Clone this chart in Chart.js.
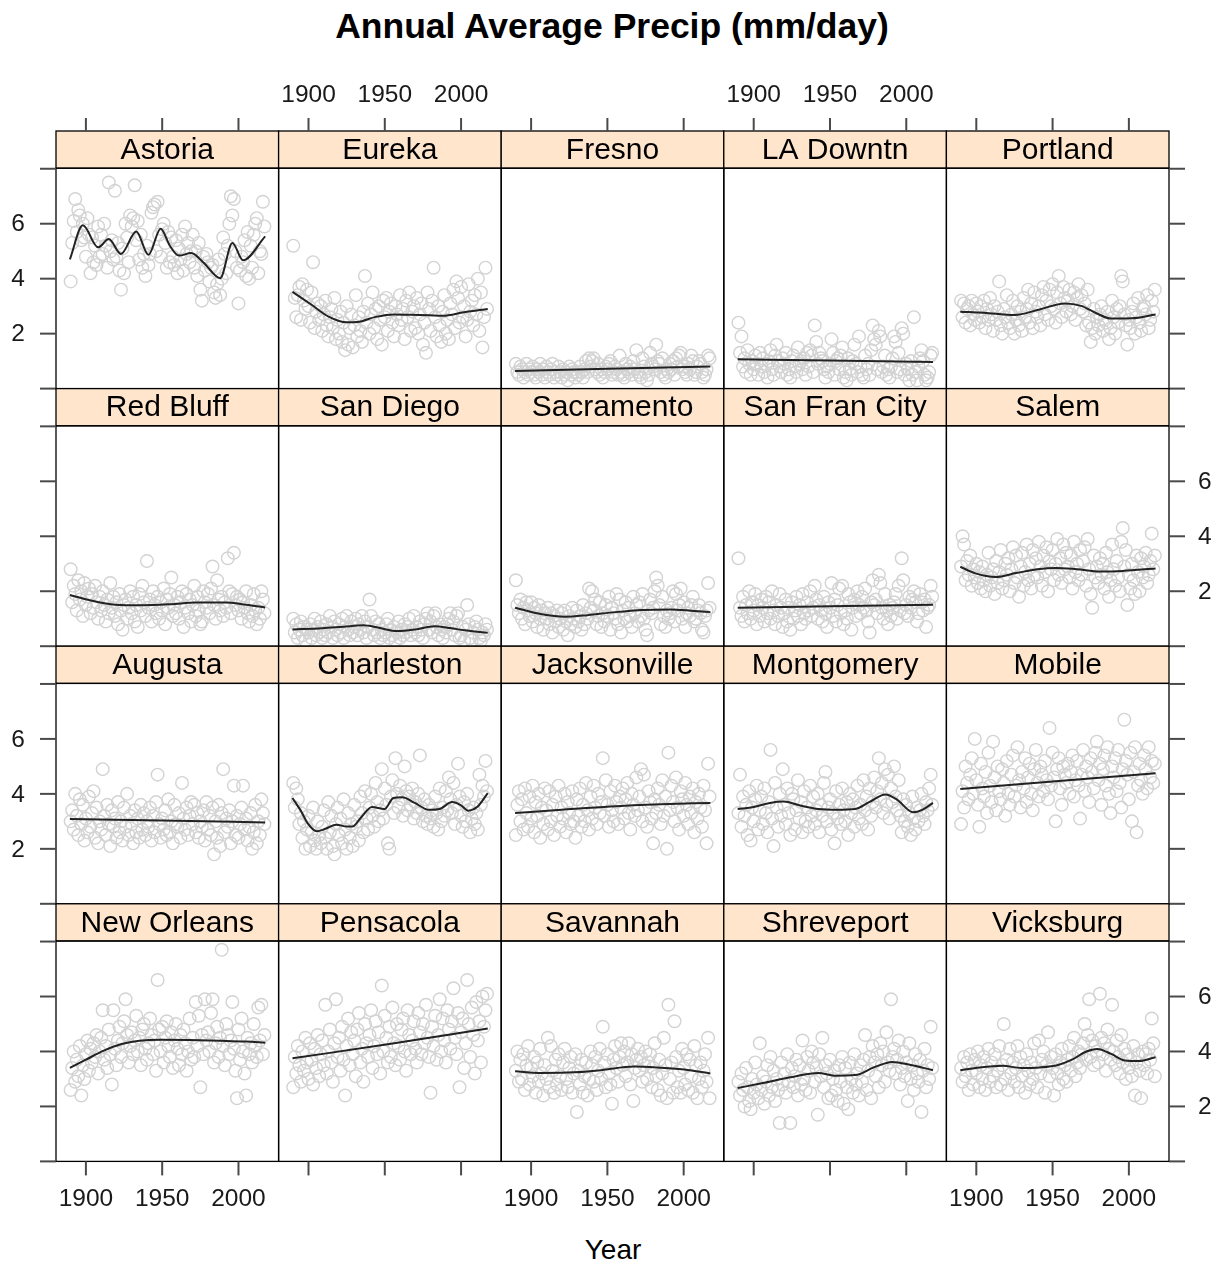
<!DOCTYPE html>
<html>
<head>
<meta charset="utf-8">
<title>Annual Average Precip (mm/day)</title>
<script src="https://cdn.jsdelivr.net/npm/chart.js@4.4.1/dist/chart.umd.min.js"></script>
<style>
  html, body { margin: 0; padding: 0; background: #fff; }
  #wrap { position: relative; width: 1221px; height: 1266px; overflow: hidden;
          font-family: "Liberation Sans", Arial, Helvetica, sans-serif; color: #000; }
  #wrap canvas { position: absolute; }
  .title { position: absolute; left: 0; width: 1224px; top: 7px; text-align: center;
           font-weight: bold; font-size: 35.5px; line-height: 38px; }
  .xlab { position: absolute; left: 0; width: 1226px; top: 1234px; text-align: center;
          font-size: 28px; line-height: 32px; }
</style>
</head>
<body>
<div id="wrap">
  <div class="title">Annual Average Precip (mm/day)</div>
  <div class="xlab">Year</div>
</div>
<script>
// ---- categories and ticks ----
const STATIONS = ['Astoria', 'Eureka', 'Fresno', 'LA Downtn', 'Portland',
                  'Red Bluff', 'San Diego', 'Sacramento', 'San Fran City', 'Salem',
                  'Augusta', 'Charleston', 'Jacksonville', 'Montgomery', 'Mobile',
                  'New Orleans', 'Pensacola', 'Savannah', 'Shreveport', 'Vicksburg'];
const FIRST_YEAR = 1890;          // one value per year, 1890 .. 2017
const X_TICKS = [1900, 1950, 2000];
const Y_TICKS = [0, 2, 4, 6, 8];
const Y_TICK_LABELS = [2, 4, 6];

// ---- annual precipitation, mm/day (1890 .. 2017) ----
const astoria = [3.9,5.3,6.1,6.9,5.7,6.5,6.3,5.4,6.0,5.5, 4.8,6.2,5.6,4.2,5.5,4.6,5.2,4.5,5.9,4.8,
  5.6,4.9,6.0,5.2,4.4,7.5,5.0,5.4,4.7,7.2, 4.8,5.3,4.3,3.6,5.1,4.2,6.0,5.5,4.6,6.3,
  5.9,6.2,7.4,5.4,6.1,4.7,5.6,4.4,4.9,4.1, 5.2,4.5,4.9,6.4,6.6,6.7,5.0,6.8,5.6,4.8,
  5.8,6.0,5.3,4.4,5.7,4.6,5.5,4.8,4.5,5.4, 4.2,5.1,4.7,5.6,4.3,5.9,4.9,5.3,4.6,5.0,
  5.6,4.4,5.0,4.1,5.3,3.6,3.2,4.8,4.3,4.9, 4.6,3.9,4.4,4.5,3.5,3.3,3.8,4.7,3.4,4.0,
  5.5,4.9,4.2,5.2,6.0,7.0,6.3,6.9,5.0,4.4, 3.1,4.3,4.8,4.6,5.4,4.1,5.7,4.0,5.2,4.4,
  5.6,6.0,6.2,4.2,5.0,4.9,6.8,5.9];
const eureka = [5.2,3.3,2.6,3.4,3.7,2.5,3.8,3.2,2.9,3.6, 3.0,2.4,3.5,4.6,2.2,2.8,3.1,2.5,3.0,2.1,
  2.7,3.2,2.3,1.9,2.6,2.9,2.2,3.3,1.8,2.5, 2.0,2.8,1.7,2.4,1.4,3.0,1.6,2.2,2.7,1.5,
  2.3,3.4,1.9,2.6,2.1,1.7,2.8,4.1,2.4,3.1, 2.0,2.7,3.5,2.2,2.9,1.8,3.0,2.5,1.6,3.2,
  2.6,3.3,2.1,2.8,3.1,2.4,1.9,3.0,2.7,2.3, 3.4,2.5,2.9,1.8,3.2,2.6,3.5,2.1,2.8,3.0,
  2.2,3.3,2.0,2.7,3.1,1.6,2.4,1.3,3.5,2.9, 2.1,3.2,4.4,2.6,1.9,3.0,2.3,1.7,2.8,3.4,
  2.0,2.5,1.8,3.1,2.7,3.6,2.2,3.9,3.3,2.4, 3.7,2.6,3.0,1.9,2.5,3.8,2.8,3.2,2.3,3.4,
  2.7,4.0,2.1,3.5,1.5,2.6,4.4,2.9];
const fresno = [0.9,0.6,0.5,0.8,0.7,0.4,0.6,0.9,0.5,0.7, 0.6,0.8,0.5,0.4,0.7,0.6,0.9,0.5,0.7,0.4,
  0.8,0.6,0.5,0.7,0.9,0.4,0.6,0.5,0.8,0.6, 0.4,0.7,0.5,0.6,0.3,0.8,0.5,0.7,0.6,0.4,
  0.6,0.5,0.8,0.6,0.4,0.7,1.0,0.6,1.1,0.8, 1.0,1.1,0.7,0.6,0.9,0.5,0.7,0.4,0.6,0.8,
  0.7,0.9,1.0,0.5,0.6,0.8,0.7,0.5,1.2,0.6, 0.5,0.4,0.9,0.7,0.6,0.8,0.5,1.0,0.7,1.4,
  0.6,0.5,0.4,1.1,0.8,0.6,0.3,0.5,1.3,0.9, 0.8,0.7,1.6,1.0,0.9,0.6,1.1,0.5,0.4,0.7,
  0.6,0.9,0.7,1.0,0.5,1.1,0.8,1.2,1.3,0.7, 0.8,0.6,0.5,0.9,0.7,1.2,1.0,0.5,0.6,0.8,
  1.0,0.9,0.6,0.4,0.5,0.7,1.2,1.1];
const laDowntn = [2.4,1.3,1.9,0.8,1.1,0.6,1.4,0.9,0.5,1.0, 0.7,1.2,0.9,0.5,1.3,0.8,1.1,0.6,0.9,0.4,
  1.0,1.4,0.7,0.5,1.2,1.6,1.0,0.8,0.6,1.1, 0.9,1.3,0.5,0.7,0.4,1.0,1.2,0.8,0.6,1.5,
  0.9,1.0,0.7,1.1,0.5,1.3,0.8,1.4,1.2,0.6, 2.3,1.7,0.9,1.3,1.1,1.0,0.7,0.4,0.8,0.6,
  0.9,1.8,1.3,0.5,1.0,1.1,0.7,1.2,1.5,0.4, 0.6,0.3,1.1,0.7,0.5,1.0,1.6,0.9,0.6,1.9,
  0.8,0.5,0.4,1.2,0.7,0.9,0.5,1.4,2.3,1.8, 1.6,0.7,2.1,1.9,0.6,0.8,1.2,0.5,0.7,0.4,
  0.8,1.1,1.9,1.7,0.6,1.3,0.7,2.2,2.0,0.5, 0.9,0.7,0.3,1.0,0.5,2.6,0.6,0.3,0.8,1.1,
  1.4,1.0,0.5,0.3,0.4,0.6,1.2,1.3];
const portland = [3.2,2.6,3.1,2.4,2.9,3.0,2.3,3.2,2.7,2.5, 3.1,2.8,2.4,3.0,2.6,3.2,2.2,2.9,2.5,3.3,
  2.7,2.1,3.0,2.5,2.8,3.9,2.3,2.0,2.9,2.6, 3.4,2.4,2.2,2.7,3.2,2.0,2.5,3.0,2.3,2.8,
  2.1,3.3,2.6,2.9,3.6,2.4,3.1,2.2,3.5,2.8, 2.6,3.0,2.3,3.4,3.7,2.7,3.2,2.5,3.6,3.0,
  3.8,2.9,2.4,3.5,4.1,3.1,2.6,3.7,3.3,2.8, 3.2,3.6,2.7,3.0,3.5,2.5,3.3,3.8,2.9,3.4,
  2.8,3.1,2.3,3.6,2.4,1.7,2.2,2.9,2.0,2.6, 2.3,2.7,3.0,2.1,2.5,2.4,2.8,1.8,2.2,3.2,
  2.6,2.0,2.9,2.4,3.0,4.1,3.9,2.7,2.3,1.6, 2.5,2.2,2.8,3.1,2.0,2.6,3.3,2.4,2.1,2.9,
  3.0,2.7,3.4,2.2,2.5,3.2,2.8,3.6];
const redBluff = [2.8,1.6,2.2,1.9,1.3,2.4,1.7,2.0,1.1,2.3, 1.5,1.8,2.1,1.2,1.9,1.4,2.2,1.6,1.0,1.8,
  1.3,2.0,1.5,0.9,1.7,1.2,2.3,1.4,1.8,1.1, 1.6,0.8,1.9,1.3,0.6,1.5,1.7,1.0,1.4,2.0,
  1.2,1.8,0.9,1.5,0.7,1.9,1.3,2.2,1.6,1.1, 3.1,1.4,1.7,0.9,2.0,1.5,1.2,1.8,1.0,1.6,
  1.3,2.1,0.8,1.7,1.4,1.9,2.5,1.1,1.5,1.2, 1.8,1.0,1.6,2.0,0.7,1.4,1.9,1.2,1.7,0.9,
  1.5,2.2,1.1,1.8,1.3,0.8,0.9,2.0,1.6,1.4, 1.9,1.2,2.1,2.9,1.5,1.0,2.4,1.7,1.3,1.8,
  1.1,1.6,1.4,3.2,2.0,1.2,1.9,3.4,1.5,1.8, 1.3,1.7,1.0,1.6,1.4,2.0,1.2,0.9,1.5,1.1,
  1.9,1.3,0.8,1.4,1.0,2.0,1.7,1.2];
const sanDiego = [1.0,0.5,0.8,0.3,0.6,0.9,0.4,0.7,0.2,0.6, 0.5,0.8,0.3,0.6,1.0,0.4,0.7,0.5,0.9,0.3,
  0.6,0.4,0.8,0.5,1.1,0.7,0.3,0.9,0.6,0.4, 0.8,0.5,1.0,0.3,0.7,1.1,0.6,0.4,0.9,0.5,
  0.7,1.0,0.4,0.8,0.6,1.1,0.5,0.9,0.3,0.7, 1.7,1.1,0.6,0.4,0.9,0.5,0.8,0.3,0.6,0.4,
  0.5,0.8,1.0,0.3,0.6,0.4,0.7,0.2,0.5,0.9, 0.3,0.6,0.4,0.8,0.5,0.7,1.0,0.4,0.6,1.1,
  0.5,0.7,0.4,0.9,0.6,0.3,0.8,1.0,1.2,0.6, 0.9,0.5,1.1,1.2,0.7,0.4,0.8,0.6,0.3,0.7,
  0.5,0.8,1.0,1.2,0.6,0.9,0.4,1.1,1.2,0.3, 0.4,0.7,0.2,0.6,1.5,0.8,0.3,0.2,0.5,0.7,
  0.9,0.6,0.3,0.2,0.5,0.4,0.8,0.6];
const sacramento = [2.4,1.5,1.2,1.7,1.0,1.4,0.8,1.6,1.3,1.1, 1.6,0.9,1.4,1.2,0.7,1.5,1.0,1.3,0.6,1.2,
  1.0,1.4,0.8,1.2,0.5,1.1,0.9,1.3,0.7,1.0, 1.2,0.6,1.3,0.9,0.4,1.1,0.8,1.4,1.0,0.7,
  1.3,0.9,1.1,0.6,1.5,0.8,1.2,1.0,2.1,1.4, 2.0,1.3,1.7,0.8,1.1,1.6,0.7,1.2,0.9,1.5,
  1.1,1.8,0.6,1.4,1.2,1.0,1.9,0.8,1.7,0.5, 1.3,1.0,1.6,0.9,1.4,1.1,0.7,1.8,1.2,1.5,
  0.9,1.6,1.1,1.9,1.0,0.6,0.4,1.3,1.7,1.2, 1.4,2.0,2.5,2.2,1.5,0.8,1.8,1.1,0.7,1.3,
  1.0,1.2,1.4,2.0,0.9,1.9,1.3,1.5,2.1,1.0, 1.6,0.7,1.2,1.4,1.1,1.5,1.8,0.9,1.0,1.3,
  1.5,1.2,0.6,0.5,1.1,1.3,2.3,1.4];
const sanFranCity = [3.2,1.4,1.1,1.8,0.9,1.5,1.2,2.0,1.0,1.6, 1.3,1.9,0.8,1.5,1.1,1.7,1.4,0.9,1.8,1.2,
  1.6,1.0,2.0,1.3,0.8,1.5,1.1,1.9,1.4,0.7, 1.2,1.7,0.9,1.4,0.6,1.6,1.0,1.3,1.8,1.1,
  1.5,0.8,1.9,1.2,1.0,1.6,1.3,2.0,1.1,1.4, 2.2,1.7,1.0,1.5,1.3,0.9,1.8,1.2,0.7,1.6,
  1.4,2.3,1.1,1.7,0.9,1.5,2.1,1.2,2.2,0.8, 1.3,1.0,1.9,1.6,0.6,1.4,1.7,1.1,2.0,1.5,
  1.2,1.8,1.4,2.1,1.3,0.9,0.5,1.6,2.4,1.5, 1.7,1.2,2.6,2.3,1.4,1.0,1.9,1.3,0.8,1.5,
  1.1,1.4,1.6,1.9,1.0,2.2,1.3,3.2,2.4,1.2, 1.5,1.1,1.8,1.4,1.7,2.0,1.6,0.9,1.2,1.9,
  1.6,1.3,1.7,0.7,1.4,1.5,2.2,1.8];
const salem = [2.9,4.0,3.7,2.4,3.1,2.6,3.3,2.2,2.8,2.5, 3.0,2.3,2.7,2.1,2.9,2.4,2.0,2.6,3.4,2.2,
  2.5,2.8,1.9,3.1,2.3,2.7,3.5,2.1,2.4,3.0, 2.6,3.2,2.0,2.8,3.6,2.3,3.3,2.5,1.8,2.9,
  3.4,2.2,2.7,3.7,2.4,3.0,2.1,3.5,2.6,3.2, 2.5,3.8,2.9,2.2,3.3,2.7,3.6,2.0,3.1,2.8,
  3.5,2.4,3.0,3.9,2.6,3.2,2.3,3.7,2.8,3.4, 2.9,2.5,3.3,2.1,3.8,2.7,3.0,2.4,3.5,2.6,
  3.1,3.6,2.2,3.9,2.8,1.9,1.4,3.3,2.5,2.9, 2.3,3.2,2.6,3.0,2.1,3.4,2.7,1.8,2.4,3.7,
  2.8,2.2,3.1,2.5,2.0,3.8,4.3,2.9,3.5,1.5, 2.6,2.1,3.0,2.4,1.9,3.3,2.7,2.0,3.2,2.5,
  2.9,3.4,2.3,2.6,3.1,4.1,2.8,3.3];
const augusta = [3.0,3.4,2.7,4.0,3.2,2.5,3.8,2.9,3.6,2.3, 3.1,2.6,3.9,2.8,3.3,4.1,2.4,3.5,2.2,3.0,
  2.7,4.9,3.2,2.5,3.6,2.9,2.1,3.4,2.8,3.1, 2.4,3.7,2.6,3.0,2.3,3.5,2.8,4.0,2.5,3.2,
  2.9,2.2,3.4,2.6,3.1,2.4,3.6,2.7,3.3,2.5, 3.0,2.8,3.5,2.3,3.2,2.6,3.7,4.7,2.9,2.4,
  3.1,2.7,3.4,2.5,3.8,2.6,3.0,2.2,3.6,2.9, 2.8,3.3,2.4,4.4,3.1,2.7,3.5,2.5,3.2,3.7,
  2.9,3.6,2.6,3.3,2.4,3.0,2.8,3.4,2.3,3.7, 2.7,3.2,2.5,3.5,1.8,3.0,2.4,3.6,2.1,3.3,
  4.9,2.6,3.1,2.8,3.4,2.2,3.0,4.3,2.5,3.2, 2.4,2.9,3.5,4.3,2.7,3.1,2.3,2.8,3.3,2.0,
  2.6,3.6,2.2,3.0,2.5,3.8,3.3,2.9];
const charleston = [4.4,3.5,4.2,3.8,2.9,3.3,2.4,3.0,2.0,2.7, 3.2,2.1,2.6,3.5,2.3,2.0,3.0,2.5,2.2,2.8,
  3.4,2.4,2.0,3.7,2.6,3.2,2.1,1.8,2.9,3.5, 2.5,3.1,2.2,3.8,2.7,2.0,3.3,2.4,2.9,2.1,
  3.6,2.8,3.0,2.3,3.9,3.3,2.6,4.1,3.1,2.7, 3.5,4.0,3.2,2.8,4.4,3.7,3.0,3.4,4.9,3.1,
  4.2,3.6,2.2,2.0,3.9,4.5,3.3,5.3,4.0,3.5, 4.3,3.8,3.2,5.0,4.1,3.4,3.9,3.6,4.2,3.1,
  3.7,3.3,4.0,5.4,3.5,3.0,3.8,3.2,2.9,3.6, 3.1,3.4,2.8,3.9,3.3,2.7,4.2,3.0,3.5,3.2,
  4.1,3.4,4.6,3.8,3.3,4.4,2.9,3.6,5.1,3.9, 3.2,2.8,3.7,3.0,4.0,3.4,2.6,3.1,3.5,2.9,
  3.3,2.7,4.7,3.6,4.3,3.9,5.2,4.1];
const jacksonville = [2.5,3.6,4.1,3.0,3.8,2.7,4.2,3.3,2.8,3.9, 3.1,4.3,2.6,3.7,3.2,4.0,2.4,3.5,2.9,4.2,
  3.4,2.7,4.1,3.0,3.6,2.5,3.9,3.2,4.3,2.8, 3.5,3.1,4.0,2.6,3.7,3.3,2.9,4.1,3.0,2.4,
  3.8,3.2,4.2,2.8,3.6,3.0,4.4,3.4,2.7,3.9, 3.1,4.3,3.5,2.9,4.0,3.3,3.7,5.3,3.2,4.5,
  3.6,2.8,4.1,3.4,3.0,4.3,3.7,2.9,3.9,3.5, 4.2,3.1,3.8,4.4,3.3,2.7,4.0,3.6,3.2,4.6,
  3.4,3.9,4.9,3.0,4.7,3.5,2.8,4.1,3.7,3.1, 2.2,3.8,3.3,4.2,3.6,2.9,4.5,3.2,3.9,2.0,
  5.5,3.4,4.3,3.7,3.0,4.6,3.5,2.7,4.1,3.8, 3.2,4.4,3.6,2.9,3.9,3.3,4.2,2.6,3.7,3.1,
  4.0,3.5,2.8,4.3,3.4,2.2,5.1,3.9];
const montgomery = [3.3,4.7,2.8,3.9,3.2,3.6,2.5,4.1,2.3,3.5, 3.0,3.8,4.3,2.7,3.4,3.9,2.9,4.2,3.3,2.6,
  3.7,5.6,3.1,2.1,4.4,3.5,2.8,4.0,3.2,4.9, 3.6,2.9,4.2,3.3,2.5,4.0,3.8,2.7,3.4,4.5,
  3.1,3.7,2.6,4.1,3.0,3.5,2.8,4.3,3.2,3.9, 2.9,3.4,4.0,2.6,3.6,3.2,4.4,4.8,3.0,3.5,
  3.8,2.7,3.3,2.2,4.1,3.1,3.6,2.9,4.2,3.4, 3.0,3.7,2.5,4.0,3.3,3.8,2.8,3.5,4.3,3.1,
  3.6,2.9,4.5,3.4,3.9,2.7,4.2,3.2,3.7,4.6, 3.5,4.1,5.3,3.8,4.4,3.3,4.9,3.6,4.7,3.1,
  4.2,3.7,5.0,3.9,3.4,4.5,3.2,2.6,3.8,3.0, 3.6,2.8,3.3,2.5,3.9,3.1,2.7,3.5,3.0,3.4,
  4.0,3.2,2.9,3.7,3.4,4.2,4.7,3.6];
const mobile = [2.9,4.1,3.5,5.0,4.4,3.8,4.7,5.3,4.0,6.0, 4.5,3.6,2.8,5.1,4.2,3.9,4.8,3.3,5.5,4.3,
  3.7,5.9,4.6,3.4,5.0,4.1,3.8,4.9,4.4,3.2, 5.2,4.0,3.6,4.7,5.4,3.9,4.3,5.7,4.5,3.5,
  4.8,4.2,5.3,3.7,4.6,5.1,4.0,3.4,4.9,5.6, 4.4,3.9,5.0,4.7,4.1,5.2,4.5,3.8,6.4,4.3,
  5.5,4.6,3.0,4.9,5.3,4.2,3.6,5.0,4.7,4.4, 5.1,4.0,4.8,5.4,3.9,4.5,5.2,4.3,3.1,4.7,
  5.6,4.1,5.0,4.6,3.7,5.3,4.8,4.2,5.5,5.9, 4.5,5.1,3.6,4.9,5.4,4.3,5.7,4.0,3.3,5.0,
  4.6,5.3,4.1,5.6,4.4,3.5,4.9,6.7,5.2,4.7, 3.8,5.5,3.0,4.8,5.7,2.6,4.3,5.1,4.5,4.0,
  5.4,4.9,4.2,5.7,4.6,5.2,4.4,5.1];
const newOrleans = [2.6,3.4,4.0,2.9,3.7,3.1,4.2,2.4,3.5,3.0, 3.9,4.4,3.3,4.1,3.6,4.3,3.8,4.6,3.2,4.0,
  4.5,5.5,3.7,4.2,3.4,4.8,3.9,2.8,5.5,4.1, 3.5,4.4,4.9,3.8,4.3,5.1,5.9,4.6,3.6,4.2,
  4.7,3.9,4.4,5.3,4.0,4.5,3.5,4.8,5.0,4.1, 3.7,4.3,5.2,4.6,3.9,4.4,3.3,6.6,4.8,4.0,
  4.9,3.6,4.5,5.1,4.2,3.8,4.7,3.4,4.4,5.0, 4.1,3.5,4.6,3.9,4.8,4.3,3.3,4.0,5.2,3.7,
  4.5,3.8,5.8,4.2,5.3,2.7,4.6,3.9,5.9,4.4, 4.7,4.0,5.4,5.9,3.6,4.3,4.9,3.8,4.5,7.7,
  4.2,3.5,5.0,4.6,3.9,4.4,5.8,4.1,3.3,2.3, 4.8,3.7,5.2,4.0,3.2,2.4,4.5,3.9,4.3,3.6,
  5.0,4.2,3.8,5.6,4.4,5.7,3.9,4.6];
const pensacola = [2.7,3.8,3.2,4.2,3.5,2.9,4.0,3.3,4.5,3.6, 3.0,4.3,3.7,2.8,4.1,3.4,4.6,3.1,3.9,4.4,
  3.5,5.7,3.2,4.0,4.8,3.6,2.9,4.3,5.9,3.8, 4.5,3.3,4.9,3.7,2.4,4.2,5.2,3.5,4.7,3.9,
  4.4,3.1,4.8,5.4,3.6,4.1,2.9,5.0,4.3,3.8, 4.6,5.5,3.4,4.2,5.1,3.9,4.7,3.2,6.4,4.0,
  5.3,4.5,3.6,4.9,3.8,5.6,4.3,3.5,5.0,4.2, 3.7,4.8,5.2,4.0,3.3,5.5,4.6,3.9,4.4,5.1,
  4.1,3.6,5.4,4.7,3.9,5.0,4.3,5.7,4.5,3.8, 2.5,4.9,4.2,5.3,3.7,4.6,5.9,4.0,5.2,4.4,
  3.6,5.5,4.8,4.1,5.1,6.3,4.5,3.9,5.4,2.7, 4.7,5.2,3.4,4.3,6.6,5.0,3.8,5.6,4.6,3.2,
  5.8,4.4,5.1,3.6,6.0,4.9,5.5,6.1];
const savannah = [3.3,4.0,2.9,3.7,3.0,3.9,2.6,3.5,4.2,2.8, 3.4,3.1,3.8,2.5,3.6,2.9,4.1,3.2,2.4,3.5,
  3.0,4.5,2.7,4.2,3.3,2.5,3.7,2.8,3.9,3.1, 2.6,3.6,4.1,3.0,2.7,3.4,3.8,2.5,3.2,3.9,
  1.8,3.3,2.8,3.7,2.5,3.1,3.6,2.4,3.0,4.0, 3.5,2.9,3.8,2.6,3.3,4.1,3.0,4.9,3.6,2.7,
  3.9,3.2,2.8,2.1,3.7,4.2,3.4,2.9,3.8,4.3, 3.5,4.0,3.1,3.6,4.3,2.8,3.9,2.2,3.4,3.7,
  4.1,3.3,3.8,2.9,3.5,4.0,3.0,3.6,3.9,2.7, 3.4,4.3,3.1,2.6,3.7,2.4,3.2,4.5,3.5,2.3,
  5.7,3.0,3.6,2.5,5.1,3.8,2.7,3.3,2.5,4.1, 3.4,2.8,3.9,2.6,3.7,3.1,2.5,4.2,3.5,2.3,
  3.0,3.6,2.7,3.3,3.9,2.9,4.5,2.3];
const shreveport = [2.9,2.4,3.2,2.6,2.0,3.4,2.7,2.2,1.9,3.0, 2.5,3.6,2.8,2.3,4.3,2.6,3.1,2.1,2.9,3.5,
  2.4,3.8,2.7,3.3,2.2,3.0,2.6,1.4,3.6,2.8, 3.2,2.5,3.9,2.9,1.4,3.4,2.7,3.1,3.7,2.4,
  3.5,2.8,4.4,3.0,2.6,3.8,3.3,2.5,4.0,3.6, 2.9,3.4,1.7,3.9,3.1,4.5,2.7,3.5,3.2,2.3,
  3.7,2.4,3.0,3.3,2.6,2.2,3.5,2.9,3.8,2.1, 3.4,2.7,1.9,3.6,3.0,2.5,3.9,2.8,3.2,2.4,
  3.5,2.9,3.7,4.6,2.6,3.3,3.8,2.3,4.2,3.6, 3.1,3.9,2.7,4.3,3.5,4.0,2.9,4.7,3.6,3.3,
  5.9,3.8,4.1,3.2,3.7,4.4,2.8,3.4,4.0,3.1, 3.6,2.2,4.3,3.0,3.5,2.6,3.9,3.2,2.9,3.7,
  1.8,3.3,4.1,2.7,3.5,3.0,4.9,3.4];
const vicksburg = [3.4,2.9,3.8,3.1,3.6,2.6,3.9,3.3,2.8,3.7, 3.2,4.0,2.7,3.5,3.0,3.8,2.6,3.4,4.1,2.9,
  3.6,3.1,3.9,2.7,3.3,4.2,2.8,3.5,5.0,3.0, 3.7,2.6,4.1,3.2,3.6,2.9,3.4,4.2,2.7,3.8,
  3.1,3.5,2.5,3.9,3.3,2.8,3.6,3.0,4.3,3.4, 2.7,4.4,3.2,3.7,4.0,2.5,3.5,4.7,3.1,3.8,
  3.4,2.4,3.9,3.2,2.8,3.6,4.1,3.0,3.5,2.9, 3.7,4.2,3.3,3.8,4.5,3.1,3.6,4.0,3.4,3.9,
  4.3,5.0,3.7,4.6,5.9,3.8,4.4,3.5,4.2,4.0, 3.6,6.1,4.5,3.9,4.3,3.3,4.8,4.1,3.7,5.7,
  4.0,3.5,4.4,3.8,3.2,4.6,3.6,4.1,3.0,3.9, 3.4,3.7,3.1,4.2,2.4,3.6,3.9,3.3,2.3,4.0,
  3.5,3.9,3.2,4.1,3.7,5.2,4.3,3.1];

// ---- smooth trend through each station, [year, mm/day] ----
const astoriaFit = [[1889.5,4.70],[1898,5.94],[1908,5.14],[1915,5.44],[1923,4.90],[1933,5.72],[1941,4.87],
  [1949,5.82],[1955,5.20],[1961,4.84],[1969,4.93],[1977,4.59],[1988,4.02],[1996,5.30],[2003,4.67],[2017.5,5.54]];
const eurekaFit = [[1889.5,3.52],[1902,3.05],[1913.5,2.61],[1925,2.41],[1932,2.42],[1944,2.61],[1956,2.70],
  [1967,2.69],[1979,2.67],[1988,2.65],[2002,2.78],[2017.5,2.90]];
const fresnoFit = [[1889.5,0.64],[1950,0.72],[2017.5,0.80]];
const laDowntnFit = [[1889.5,1.07],[1950,1.02],[2017.5,0.97]];
const portlandFit = [[1889.5,2.80],[1905,2.76],[1925,2.68],[1941.5,2.88],[1958,3.10],[1968.7,3.01],[1978,2.76],
  [1988.4,2.55],[2002,2.56],[2017.5,2.70]];
const redBluffFit = [[1889.5,1.86],[1902,1.68],[1919,1.51],[1937,1.49],[1956,1.53],[1972,1.59],[1991,1.59],
  [2005,1.51],[2017.5,1.41]];
const sanDiegoFit = [[1889.5,0.61],[1909,0.65],[1923,0.71],[1936,0.76],[1946,0.67],[1958,0.55],[1970,0.61],
  [1982.5,0.73],[1993,0.66],[2002,0.58],[2017.5,0.49]];
const sacramentoFit = [[1889.5,1.40],[1907,1.16],[1922,1.07],[1937,1.13],[1955,1.24],[1973,1.32],[1991,1.34],
  [2007,1.28],[2017.5,1.24]];
const sanFranCityFit = [[1889.5,1.40],[1950,1.45],[2017.5,1.51]];
const salemFit = [[1889.5,2.89],[1899,2.66],[1912.7,2.52],[1926,2.66],[1940,2.80],[1952,2.85],[1966,2.80],
  [1981,2.72],[1996,2.74],[2017.5,2.83]];
const augustaFit = [[1889.5,3.09],[1950,3.03],[2017.5,2.96]];
const charlestonFit = [[1889.5,3.85],[1894.9,3.39],[1899.5,2.93],[1905.4,2.64],[1911.2,2.73],[1918.2,2.88],
  [1925.2,2.81],[1928.7,2.81],[1934.6,3.15],[1941.6,3.52],[1949.8,3.45],[1955.6,3.85],[1961.4,3.88],
  [1969.6,3.67],[1979,3.42],[1986,3.45],[1994.1,3.70],[2000,3.58],[2004.6,3.39],[2010.5,3.52],[2017.5,4.03]];
const jacksonvilleFit = [[1889.5,3.30],[1920,3.42],[1952,3.54],[1985,3.62],[2017.5,3.67]];
const montgomeryFit = [[1889.5,3.45],[1900,3.52],[1910.6,3.67],[1919.7,3.72],[1930.3,3.58],[1942.4,3.45],
  [1954.5,3.42],[1966.6,3.45],[1975.7,3.70],[1986.3,3.98],[1993.9,3.79],[2004.5,3.33],[2010.5,3.42],[2017.5,3.67]];
const mobileFit = [[1889.5,4.18],[1950,4.45],[2017.5,4.75]];
const newOrleansFit = [[1889.5,3.40],[1900,3.70],[1911.7,4.03],[1923.4,4.27],[1935,4.39],[1949,4.43],
  [1967.7,4.42],[1988.8,4.39],[2005.1,4.36],[2017.5,4.32]];
const pensacolaFit = [[1889.5,3.75],[1953,4.27],[2017.5,4.84]];
const savannahFit = [[1889.5,3.28],[1906.7,3.22],[1927.9,3.24],[1946,3.32],[1967.2,3.45],[1982.3,3.42],
  [2000.5,3.34],[2017.5,3.20]];
const shreveportFit = [[1889.5,2.67],[1906,2.85],[1924.2,3.06],[1942.4,3.22],[1953,3.12],[1966.6,3.14],
  [1978.7,3.42],[1990.8,3.62],[2002.9,3.51],[2017.5,3.32]];
const vicksburgFit = [[1889.5,3.32],[1902.1,3.42],[1917.3,3.48],[1929.4,3.40],[1941.5,3.42],[1953.6,3.51],
  [1962.7,3.70],[1971.8,3.99],[1979.3,4.09],[1988.4,3.91],[1997.5,3.67],[2006.6,3.65],[2017.5,3.79]];

const PRECIP = [astoria, eureka, fresno, laDowntn, portland, redBluff, sanDiego, sacramento, sanFranCity, salem,
                augusta, charleston, jacksonville, montgomery, mobile, newOrleans, pensacola, savannah, shreveport, vicksburg];
const FITS = [astoriaFit, eurekaFit, fresnoFit, laDowntnFit, portlandFit, redBluffFit, sanDiegoFit, sacramentoFit,
              sanFranCityFit, salemFit, augustaFit, charlestonFit, jacksonvilleFit, montgomeryFit, mobileFit,
              newOrleansFit, pensacolaFit, savannahFit, shreveportFit, vicksburgFit];

// ---- lattice layout (page pixels) ----
const NCOL = 5;
const GRID = { left: 56, panelW: 222.6, top: 131, rowH: 257.6, stripH: 37.2, panelH: 220.4 };
const X_RANGE = [1880.4, 2026.3];
const Y_RANGE = [0, 8.02];
const MARGIN = 60;
const FONT = '"Liberation Sans", Arial, Helvetica, sans-serif';

// strip, border, ticks and tick labels around one panel
const latticePanel = {
  id: 'latticePanel',
  afterDatasetsDraw(chart, args, o) {
    const { ctx, chartArea: a } = chart;
    const xs = chart.scales.x, ys = chart.scales.y;
    const sTop = a.top - o.stripH;
    const w = a.right - a.left;
    ctx.save();
    // strip
    ctx.fillStyle = '#ffe5cc';
    ctx.fillRect(a.left, sTop, w, o.stripH);
    ctx.strokeStyle = '#000';
    ctx.lineWidth = 1.3;
    ctx.strokeRect(a.left, sTop, w, o.stripH);
    ctx.strokeRect(a.left, a.top, w, a.bottom - a.top);
    ctx.fillStyle = '#000';
    ctx.font = '30px ' + FONT;
    ctx.textAlign = 'center';
    ctx.textBaseline = 'middle';
    ctx.fillText(o.name, (a.left + a.right) / 2, sTop + o.stripH / 2 + 1);

    // ticks
    ctx.strokeStyle = '#4a4a4a';
    ctx.lineWidth = 2;
    ctx.font = '24.5px ' + FONT;
    ctx.fillStyle = '#1a1a1a';
    const seg = (x1, y1, x2, y2) => { ctx.beginPath(); ctx.moveTo(x1, y1); ctx.lineTo(x2, y2); ctx.stroke(); };
    if (o.top) {
      X_TICKS.forEach(v => {
        const px = xs.getPixelForValue(v);
        seg(px, sTop, px, sTop - 13);
        if (o.topLabels) ctx.fillText(String(v), px, sTop - 36);
      });
    }
    if (o.bottom) {
      X_TICKS.forEach(v => {
        const px = xs.getPixelForValue(v);
        seg(px, a.bottom, px, a.bottom + 14);
        if (o.bottomLabels) ctx.fillText(String(v), px, a.bottom + 38);
      });
    }
    if (o.left) {
      ctx.textAlign = 'right';
      Y_TICKS.forEach(v => {
        const py = ys.getPixelForValue(v);
        seg(a.left, py, a.left - 16, py);
        if (o.leftLabels && Y_TICK_LABELS.includes(v)) ctx.fillText(String(v), a.left - 31, py + 1);
      });
    }
    if (o.right) {
      ctx.textAlign = 'left';
      Y_TICKS.forEach(v => {
        const py = ys.getPixelForValue(v);
        seg(a.right, py, a.right + 16, py);
        if (o.rightLabels && Y_TICK_LABELS.includes(v)) ctx.fillText(String(v), a.right + 29, py + 1);
      });
    }
    ctx.restore();
  }
};

const wrap = document.getElementById('wrap');
const NROW = Math.ceil(STATIONS.length / NCOL);

STATIONS.forEach((name, i) => {
  const r = Math.floor(i / NCOL), c = i % NCOL;
  const x0 = GRID.left + c * GRID.panelW, x1 = x0 + GRID.panelW;
  const sTop = GRID.top + r * GRID.rowH;
  const pTop = sTop + GRID.stripH, pBot = pTop + GRID.panelH;
  const cl = Math.floor(x0) - MARGIN, ct = Math.floor(sTop) - MARGIN;
  const cw = Math.ceil(x1) + MARGIN - cl, ch = Math.ceil(pBot) + MARGIN - ct;

  const cv = document.createElement('canvas');
  cv.width = cw; cv.height = ch;
  cv.style.left = cl + 'px'; cv.style.top = ct + 'px';
  cv.style.width = cw + 'px'; cv.style.height = ch + 'px';
  wrap.appendChild(cv);

  const values = PRECIP[i];
  const points = values.map((v, k) => ({ x: FIRST_YEAR + k, y: v }));
  const fit = FITS[i].map(([x, y]) => ({ x, y }));

  new Chart(cv, {
    type: 'scatter',
    data: {
      datasets: [
        // yearly values: open grey circles, drawn underneath
        { data: points, order: 2, pointStyle: 'circle', pointRadius: 6.3, pointBorderWidth: 1.4,
          pointBorderColor: '#d3d3d3', pointBackgroundColor: 'rgba(0,0,0,0)', showLine: false, clip: 1 },
        // smooth trend, drawn on top
        { data: fit, order: 1, showLine: true, borderColor: '#222222', borderWidth: 2, pointRadius: 0,
          cubicInterpolationMode: 'monotone', fill: false, clip: 1 }
      ]
    },
    options: {
      responsive: false, animation: false, devicePixelRatio: 1, events: [],
      layout: { padding: { left: x0 - cl, top: pTop - ct, right: cl + cw - x1, bottom: ct + ch - pBot } },
      plugins: {
        legend: { display: false }, tooltip: { enabled: false }, title: { display: false },
        latticePanel: {
          name, stripH: GRID.stripH,
          top: r === 0, topLabels: c % 2 === 1,
          bottom: r === NROW - 1, bottomLabels: c % 2 === 0,
          left: c === 0, leftLabels: r % 2 === 0,
          right: c === NCOL - 1, rightLabels: r % 2 === 1
        }
      },
      scales: {
        x: { type: 'linear', min: X_RANGE[0], max: X_RANGE[1], display: false },
        y: { type: 'linear', min: Y_RANGE[0], max: Y_RANGE[1], display: false }
      }
    },
    plugins: [latticePanel]
  });
});
</script>
</body>
</html>
